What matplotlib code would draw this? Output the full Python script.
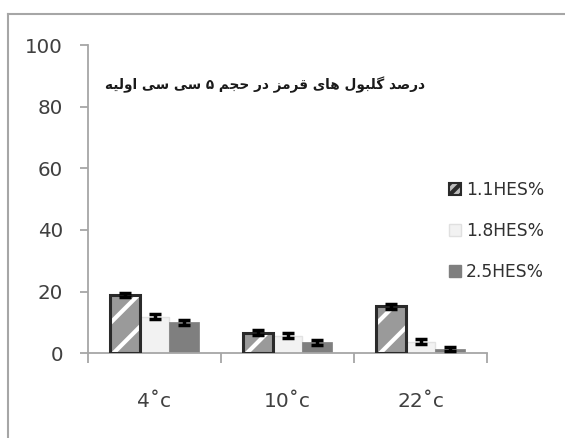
import matplotlib
matplotlib.use("Agg")
import matplotlib.pyplot as plt
import numpy as np
from matplotlib.patches import Patch
from matplotlib.lines import Line2D

# ---------------- data ----------------
categories = ["4˚c", "10˚c", "22˚c"]
series_names = ["1.1HES%", "1.8HES%", "2.5HES%"]
hes_11 = [18.9, 6.7, 15.2]
hes_18 = [11.9, 5.7, 3.8]
hes_25 = [10.0, 3.6, 1.4]
err_11 = [0.8, 0.8, 0.8]
err_18 = [0.8, 0.8, 0.8]
err_25 = [0.8, 0.8, 0.8]
yticks = [0, 20, 40, 60, 80, 100]
title_text = "درصد گلبول های قرمز در حجم ۵ سی سی اولیه"

# ------------- simple Arabic-script shaping -------------
FORMS = {
    'ا': (0xFE8D, 0xFE8E, None, None),
    'ب': (0xFE8F, 0xFE90, 0xFE91, 0xFE92),
    'ج': (0xFE9D, 0xFE9E, 0xFE9F, 0xFEA0),
    'ح': (0xFEA1, 0xFEA2, 0xFEA3, 0xFEA4),
    'د': (0xFEA9, 0xFEAA, None, None),
    'ر': (0xFEAD, 0xFEAE, None, None),
    'ز': (0xFEAF, 0xFEB0, None, None),
    'س': (0xFEB1, 0xFEB2, 0xFEB3, 0xFEB4),
    'ص': (0xFEB9, 0xFEBA, 0xFEBB, 0xFEBC),
    'ق': (0xFED5, 0xFED6, 0xFED7, 0xFED8),
    'ل': (0xFEDD, 0xFEDE, 0xFEDF, 0xFEE0),
    'م': (0xFEE1, 0xFEE2, 0xFEE3, 0xFEE4),
    'ه': (0xFEE9, 0xFEEA, 0xFEEB, 0xFEEC),
    'و': (0xFEED, 0xFEEE, None, None),
    'ی': (0xFBFC, 0xFBFD, 0xFBFE, 0xFBFF),
    'گ': (0xFB92, 0xFB93, 0xFB94, 0xFB95),
}


def dual(c):
    return c in FORMS and FORMS[c][2] is not None


def joining(c):
    return c in FORMS


def shape(text):
    out = []
    n = len(text)
    for i, c in enumerate(text):
        if c not in FORMS:
            out.append(c)
            continue
        prev_c = text[i - 1] if i > 0 else ""
        next_c = text[i + 1] if i + 1 < n else ""
        jp = dual(prev_c)
        jn = dual(c) and joining(next_c)
        iso, fin, ini, med = FORMS[c]
        if jp and jn:
            cp = med
        elif jp:
            cp = fin
        elif jn:
            cp = ini
        else:
            cp = iso
        out.append(chr(cp))
    return "".join(out)[::-1]


# ---------------- figure ----------------
W, H = 565, 438
fig = plt.figure(figsize=(W / 100, H / 100), dpi=100)
ax = fig.add_axes([88 / W, 1 - 353.3 / H, (487 - 88) / W, (353.3 - 45) / H])

x = np.arange(len(categories))
bw = 0.225
grey_txt = "#404040"
spine_c = "#a6a6a6"

# series 1.1: grey with white diagonal stripes + dark outline
plt.rcParams["hatch.linewidth"] = 3.0
ax.bar(x - bw, hes_11, bw, color="#9a9a9a", edgecolor="white", hatch="/", linewidth=0, zorder=2)
ax.bar(x - bw, hes_11, bw, fill=False, edgecolor="#2a2a2a", linewidth=2.2, zorder=3)
ax.bar(x, hes_18, bw, color="#f2f2f2", edgecolor="#e2e2e2", linewidth=1, zorder=2)
ax.bar(x + bw, hes_25, bw, color="#7f7f7f", edgecolor="#7f7f7f", linewidth=0.5, zorder=2)

for off, vals, errs in [(-bw, hes_11, err_11), (0, hes_18, err_18), (bw, hes_25, err_25)]:
    ax.errorbar(x + off, vals, yerr=errs, fmt="none", ecolor="black",
                elinewidth=2.5, capsize=4.5, capthick=2.5, zorder=4)

ax.set_xlim(-0.5, 2.5)
ax.set_ylim(0, 100)
ax.set_yticks(yticks)
ax.set_yticklabels([str(v) for v in yticks])
ax.set_xticks([-0.5, 0.5, 1.5, 2.5])
ax.set_xticklabels([])
ax.set_xticks(x, minor=True)
ax.set_xticklabels(categories, minor=True)

for s in ["top", "right"]:
    ax.spines[s].set_visible(False)
for s in ["left", "bottom"]:
    ax.spines[s].set_color(spine_c)
    ax.spines[s].set_linewidth(1.3)

ax.tick_params(axis="y", direction="out", length=6, width=1.3, color=spine_c,
               labelsize=14.3, labelcolor=grey_txt, pad=12)
ax.tick_params(axis="x", which="major", direction="out", length=7, width=1.3, color=spine_c)
ax.tick_params(axis="x", which="minor", length=0, labelsize=14.5, labelcolor=grey_txt, pad=28)
for lab in ax.get_yticklabels() + ax.get_xticklabels(minor=True):
    lab.set_family(["DejaVu Sans"])

# title text (Persian)
fig.text(265 / W, 1 - 85 / H, shape(title_text), ha="center", va="center",
         fontsize=9.8, fontweight="bold", color="#1a1a1a",
         family=["DejaVu Sans"])

# legend
handles = [
    Patch(facecolor="#bdbdbd", edgecolor="#2a2a2a", hatch="///", linewidth=1.5),
    Patch(facecolor="#f2f2f2", edgecolor="#e0e0e0", linewidth=1),
    Patch(facecolor="#7f7f7f", edgecolor="#7f7f7f", linewidth=1),
]
leg = fig.legend(handles, series_names, loc="upper left",
                 bbox_to_anchor=(449 / W, 1 - 181 / H), frameon=False,
                 prop={"family": ["DejaVu Sans"], "size": 12.3},
                 handlelength=0.7, handleheight=0.7, handletextpad=0.3,
                 labelspacing=1.35, borderpad=0, borderaxespad=0)
for t in leg.get_texts():
    t.set_color("#303030")

# outer frame (left and top edges visible)
fig.add_artist(Line2D([7.5 / W, 7.5 / W], [0, 1 - 14 / H], transform=fig.transFigure,
                      color=spine_c, linewidth=1.5))
fig.add_artist(Line2D([7.5 / W, 1], [1 - 14 / H, 1 - 14 / H], transform=fig.transFigure,
                      color=spine_c, linewidth=1.5))

fig.savefig("out.png", dpi=100)
